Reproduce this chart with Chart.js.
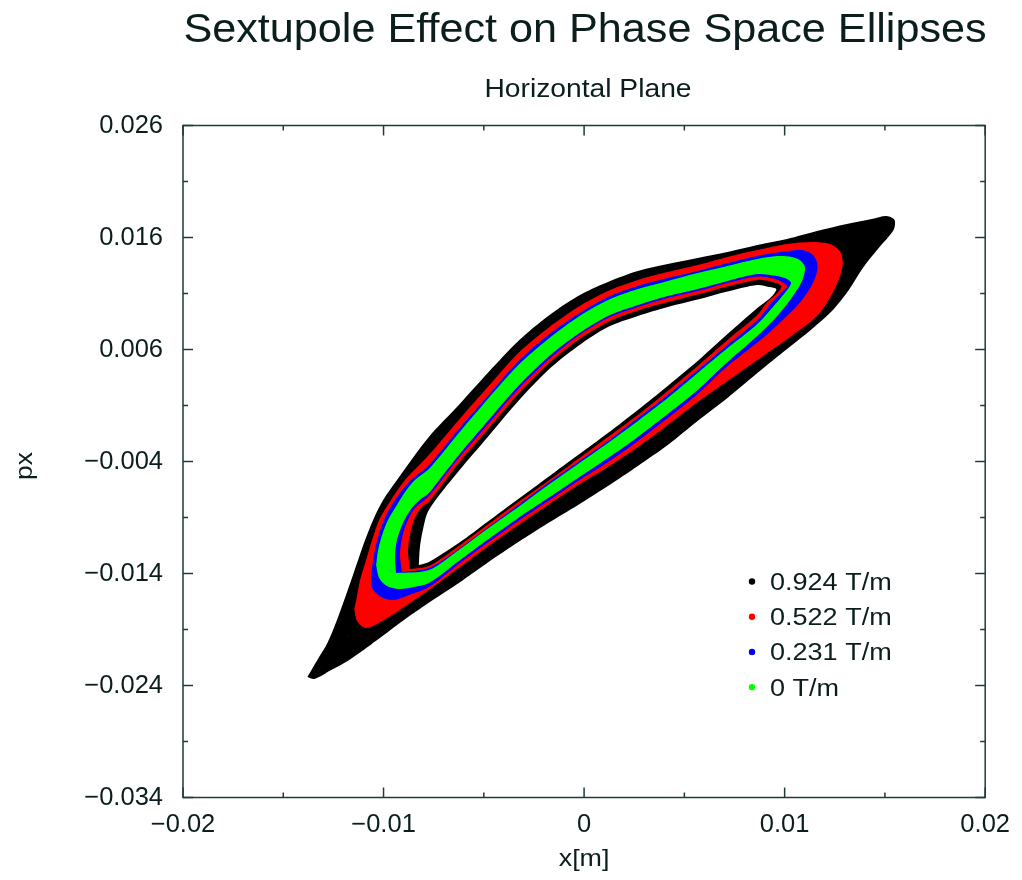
<!DOCTYPE html>
<html>
<head>
<meta charset="utf-8">
<title>Sextupole Effect on Phase Space Ellipses</title>
<script src="https://cdn.jsdelivr.net/npm/chart.js@4.4.1/dist/chart.umd.min.js"></script>
<style>
  html, body { margin: 0; padding: 0; background: #ffffff; }
  #wrap { width: 1022px; height: 880px; position: relative; }
</style>
</head>
<body>
<div id="wrap"><canvas id="chart"></canvas></div>
<script>
// Sextupole strengths and their colours
const ringLabels = ['0.924 T/m', '0.522 T/m', '0.231 T/m', '0 T/m'];
const ringColors = ['#000000', '#ff0000', '#0000ff', '#00ff00'];

// Each tracked particle band is an annulus in (x, px): outer edge and inner edge,
// both listed in the same direction (up the upper-left side, back along the lower side).
const outer0924 = [
  [-0.01380,-0.02324],[-0.01330,-0.02172],[-0.01280,-0.02021],[-0.01236,-0.01833],[-0.01196,-0.01637],
  [-0.01161,-0.01458],[-0.01127,-0.01279],[-0.01092,-0.01101],[-0.01052,-0.00922],[-0.01002,-0.00744],
  [-0.00933,-0.00565],[-0.00774,-0.00181],[-0.00625,0.00104],[-0.00476,0.00399],[-0.00328,0.00676],
  [-0.00179,0.00899],[-0.00030,0.01078],[0.00119,0.01203],[0.00268,0.01301],[0.00417,0.01363],
  [0.00566,0.01417],[0.00715,0.01471],[0.00864,0.01533],[0.01012,0.01587],[0.01161,0.01658],
  [0.01310,0.01721],[0.01434,0.01765],[0.01509,0.01792],[0.01548,0.01756],[0.01543,0.01667],
  [0.01469,0.01506],[0.01390,0.01328],[0.01320,0.01131],[0.01241,0.00953],[0.01136,0.00783],
  [0.01012,0.00604],[0.00864,0.00390],[0.00715,0.00167],[0.00566,-0.00038],[0.00417,-0.00253],
  [0.00268,-0.00440],[0.00119,-0.00619],[-0.00030,-0.00788],[-0.00179,-0.00949],[-0.00328,-0.01119],
  [-0.00476,-0.01297],[-0.00625,-0.01485],[-0.00754,-0.01637],[-0.00898,-0.01815],[-0.01032,-0.01994],
  [-0.01171,-0.02172],[-0.01261,-0.02262],[-0.01345,-0.02342]
];
const inner0924 = [
  [-0.00824,-0.01324],[-0.00819,-0.01172],[-0.00804,-0.01012],[-0.00774,-0.00833],[-0.00625,-0.00485],
  [-0.00476,-0.00172],[-0.00328,0.00140],[-0.00179,0.00417],[-0.00030,0.00631],[0.00119,0.00801],
  [0.00268,0.00899],[0.00417,0.00979],[0.00566,0.01046],[0.00715,0.01118],[0.00864,0.01176],
  [0.00923,0.01158],[0.00958,0.01140],[0.00943,0.01087],[0.00903,0.01024],[0.00864,0.00971],
  [0.00715,0.00738],[0.00566,0.00497],[0.00417,0.00274],[0.00268,0.00060],[0.00119,-0.00146],
  [-0.00030,-0.00342],[-0.00179,-0.00538],[-0.00328,-0.00735],[-0.00476,-0.00931],[-0.00625,-0.01128],
  [-0.00774,-0.01297]
];
const outer0522 = [
  [-0.01146,-0.01717],[-0.01136,-0.01637],[-0.01117,-0.01458],[-0.01087,-0.01279],[-0.01057,-0.01101],
  [-0.01022,-0.00922],[-0.00963,-0.00744],[-0.00893,-0.00565],[-0.00774,-0.00342],[-0.00625,-0.00029],
  [-0.00476,0.00274],[-0.00328,0.00569],[-0.00179,0.00792],[-0.00030,0.00979],[0.00119,0.01122],
  [0.00268,0.01221],[0.00417,0.01292],[0.00566,0.01354],[0.00715,0.01426],[0.00864,0.01488],
  [0.01012,0.01542],[0.01136,0.01560],[0.01226,0.01542],[0.01275,0.01479],[0.01290,0.01381],
  [0.01275,0.01247],[0.01231,0.01078],[0.01161,0.00899],[0.01027,0.00712],[0.00864,0.00506],
  [0.00715,0.00319],[0.00566,0.00131],[0.00417,-0.00074],[0.00268,-0.00271],[0.00119,-0.00449],
  [-0.00030,-0.00610],[-0.00179,-0.00788],[-0.00328,-0.00967],[-0.00476,-0.01154],[-0.00625,-0.01351],
  [-0.00774,-0.01547],[-0.00898,-0.01699],[-0.00998,-0.01815],[-0.01087,-0.01887],[-0.01132,-0.01824]
];
const inner0522 = [
  [-0.00868,-0.01360],[-0.00878,-0.01208],[-0.00868,-0.01056],[-0.00844,-0.00904],[-0.00809,-0.00806],
  [-0.00774,-0.00762],[-0.00625,-0.00413],[-0.00476,-0.00105],[-0.00328,0.00203],[-0.00179,0.00471],
  [-0.00030,0.00685],[0.00119,0.00846],[0.00268,0.00948],[0.00417,0.01024],[0.00566,0.01091],
  [0.00715,0.01163],[0.00864,0.01221],[0.00938,0.01203],[0.00983,0.01167],[0.00963,0.01104],
  [0.00913,0.01024],[0.00864,0.00908],[0.00715,0.00685],[0.00566,0.00453],[0.00417,0.00229],
  [0.00268,0.00015],[0.00119,-0.00181],[-0.00030,-0.00378],[-0.00179,-0.00574],[-0.00328,-0.00762],
  [-0.00476,-0.00958],[-0.00625,-0.01154],[-0.00774,-0.01333]
];
const outer0231 = [
  [-0.01062,-0.01413],[-0.01052,-0.01279],[-0.01032,-0.01101],[-0.00998,-0.00922],[-0.00943,-0.00744],
  [-0.00873,-0.00583],[-0.00774,-0.00431],[-0.00625,-0.00110],[-0.00476,0.00194],[-0.00328,0.00497],
  [-0.00179,0.00729],[-0.00030,0.00917],[0.00119,0.01069],[0.00268,0.01167],[0.00417,0.01238],
  [0.00566,0.01301],[0.00715,0.01372],[0.00864,0.01435],[0.01012,0.01479],[0.01087,0.01488],
  [0.01136,0.01453],[0.01161,0.01381],[0.01161,0.01292],[0.01136,0.01176],[0.01087,0.01042],
  [0.01027,0.00926],[0.00898,0.00712],[0.00715,0.00453],[0.00566,0.00203],[0.00417,-0.00012],
  [0.00268,-0.00217],[0.00119,-0.00405],[-0.00030,-0.00574],[-0.00179,-0.00753],[-0.00328,-0.00931],
  [-0.00476,-0.01119],[-0.00625,-0.01315],[-0.00774,-0.01521],[-0.00873,-0.01592],[-0.00948,-0.01637],
  [-0.01012,-0.01610],[-0.01057,-0.01529]
];
const inner0231 = [
  [-0.00908,-0.01387],[-0.00918,-0.01235],[-0.00908,-0.01083],[-0.00883,-0.00940],[-0.00844,-0.00815],
  [-0.00774,-0.00708],[-0.00625,-0.00369],[-0.00476,-0.00061],[-0.00328,0.00247],[-0.00179,0.00506],
  [-0.00030,0.00721],[0.00119,0.00881],[0.00268,0.00979],[0.00417,0.01060],[0.00566,0.01122],
  [0.00715,0.01194],[0.00864,0.01252],[0.00953,0.01229],[0.01012,0.01167],[0.00988,0.01113],
  [0.00938,0.01024],[0.00864,0.00863],[0.00715,0.00640],[0.00566,0.00417],[0.00417,0.00194],
  [0.00268,-0.00012],[0.00119,-0.00217],[-0.00030,-0.00405],[-0.00179,-0.00592],[-0.00328,-0.00788],
  [-0.00476,-0.00985],[-0.00625,-0.01181],[-0.00774,-0.01351]
];
const outer0 = [
  [-0.01037,-0.01324],[-0.01027,-0.01190],[-0.01007,-0.01056],[-0.00978,-0.00922],[-0.00933,-0.00788],
  [-0.00893,-0.00672],[-0.00844,-0.00565],[-0.00774,-0.00467],[-0.00625,-0.00146],[-0.00476,0.00167],
  [-0.00328,0.00462],[-0.00179,0.00694],[-0.00030,0.00890],[0.00119,0.01042],[0.00268,0.01140],
  [0.00417,0.01212],[0.00566,0.01283],[0.00715,0.01346],[0.00864,0.01408],[0.00963,0.01435],
  [0.01037,0.01426],[0.01082,0.01390],[0.01102,0.01328],[0.01092,0.01238],[0.01077,0.01176],
  [0.01027,0.01042],[0.00963,0.00899],[0.00864,0.00721],[0.00715,0.00488],[0.00566,0.00238],
  [0.00417,0.00024],[0.00268,-0.00181],[0.00119,-0.00369],[-0.00030,-0.00547],[-0.00179,-0.00726],
  [-0.00328,-0.00904],[-0.00476,-0.01092],[-0.00625,-0.01288],[-0.00774,-0.01485],[-0.00849,-0.01521],
  [-0.00923,-0.01538],[-0.00983,-0.01512],[-0.01022,-0.01440]
];
const inner0 = [
  [-0.00938,-0.01396],[-0.00943,-0.01244],[-0.00933,-0.01101],[-0.00903,-0.00949],[-0.00859,-0.00815],
  [-0.00814,-0.00735],[-0.00774,-0.00681],[-0.00625,-0.00342],[-0.00476,-0.00029],[-0.00328,0.00274],
  [-0.00179,0.00533],[-0.00030,0.00738],[0.00119,0.00899],[0.00268,0.00997],[0.00417,0.01078],
  [0.00566,0.01140],[0.00715,0.01212],[0.00864,0.01274],[0.00963,0.01256],[0.01012,0.01229],
  [0.01032,0.01194],[0.01012,0.01131],[0.00963,0.01024],[0.00864,0.00828],[0.00715,0.00613],
  [0.00566,0.00390],[0.00417,0.00167],[0.00268,-0.00038],[0.00119,-0.00235],[-0.00030,-0.00422],
  [-0.00179,-0.00610],[-0.00328,-0.00806],[-0.00476,-0.00994],[-0.00625,-0.01190],[-0.00774,-0.01369]
];

// Axis ticks
const xTicks = [-0.02, -0.01, 0, 0.01, 0.02];
const xTickLabels = ['\u22120.02', '\u22120.01', '0', '0.01', '0.02'];
const xMinorTicks = [-0.015, -0.005, 0.005, 0.015];
const yTicks = [-0.034, -0.024, -0.014, -0.004, 0.006, 0.016, 0.026];
const yTickLabels = ['\u22120.034', '\u22120.024', '\u22120.014', '\u22120.004', '0.006', '0.016', '0.026'];
const yMinorTicks = [-0.029, -0.019, -0.009, 0.001, 0.011, 0.021];

const FONT = 'Liberation Sans';
const INK = '#0c1d1d';
const FRAME = '#1f3a3a';

// Outer edge, closed, then the inner edge run the other way round: one keyhole outline.
// Doubled points at the joins keep the connecting cut straight when the edges are smoothed,
// and the opposite winding leaves the middle unfilled.
function bandOutline(outer, inner) {
  const back = [inner[0]].concat(inner.slice(1).reverse());
  const pts = outer.concat([outer[0], outer[0]], [back[0]], back, [back[0], back[0]]);
  return pts.map(([x, y]) => ({ x, y }));
}

const bands = [[outer0924, inner0924], [outer0522, inner0522], [outer0231, inner0231], [outer0, inner0]];

const datasets = bands.map(([o, i], k) => ({
  label: ringLabels[k],
  data: bandOutline(o, i),
  backgroundColor: ringColors[k],
  borderColor: 'rgba(0,0,0,0)',
  borderWidth: 0,
  pointRadius: 0,
  pointHoverRadius: 0,
  tension: 0.3,
  fill: 'shape',
  order: 4 - k
}));

// text drawn with a horizontal stretch factor
function stretchedText(ctx, text, x, y, size, sx, align, rot) {
  ctx.save();
  ctx.translate(x, y);
  if (rot) ctx.rotate(rot);
  ctx.scale(sx, 1);
  ctx.font = `${size}px "${FONT}"`;
  ctx.textAlign = align;
  ctx.textBaseline = 'alphabetic';
  ctx.fillText(text, 0, 0);
  ctx.restore();
}

const decor = {
  id: 'decor',
  afterDatasetsDraw(chart) {
    const { ctx, chartArea: a, scales: { x, y } } = chart;
    ctx.save();
    ctx.strokeStyle = FRAME;
    ctx.lineWidth = 1.5;
    ctx.strokeRect(a.left, a.top, a.right - a.left, a.bottom - a.top);
    const seg = (x0, y0, x1, y1) => { ctx.beginPath(); ctx.moveTo(x0, y0); ctx.lineTo(x1, y1); ctx.stroke(); };
    const xMarks = (vals, len) => vals.forEach(v => {
      const p = x.getPixelForValue(v);
      seg(p, a.bottom, p, a.bottom - len);
      seg(p, a.top, p, a.top + len);
    });
    const yMarks = (vals, len) => vals.forEach(v => {
      const p = y.getPixelForValue(v);
      seg(a.left, p, a.left + len, p);
      seg(a.right, p, a.right - len, p);
    });
    xMarks(xTicks, 10); xMarks(xMinorTicks, 5);
    yMarks(yTicks, 10); yMarks(yMinorTicks, 5);
    ctx.restore();
  },
  afterDraw(chart) {
    const { ctx, chartArea: a } = chart;
    const cx = (a.left + a.right) / 2;
    ctx.save();
    ctx.fillStyle = INK;
    stretchedText(ctx, 'Sextupole Effect on Phase Space Ellipses', 585, 42, 40.5, 1.066, 'center');
    stretchedText(ctx, 'Horizontal Plane', 588, 97, 26.5, 1.065, 'center');
    stretchedText(ctx, 'x[m]', cx, 866, 24, 1.12, 'center');
    stretchedText(ctx, 'px', 32, 466, 24, 1.1, 'center', -Math.PI / 2);

    // legend inside the plot, lower right
    chart.data.datasets.forEach((ds, i) => {
      const yb = 590 + i * 35.2;
      ctx.fillStyle = ds.backgroundColor;
      ctx.beginPath();
      ctx.arc(752, yb - 8.5, 3.2, 0, Math.PI * 2);
      ctx.fill();
      ctx.fillStyle = INK;
      stretchedText(ctx, ds.label, 770, yb, 23.5, 1.15, 'left');
    });
    ctx.restore();
  }
};

new Chart(document.getElementById('chart'), {
  type: 'line',
  data: { datasets },
  options: {
    responsive: true,
    maintainAspectRatio: false,
    animation: false,
    events: [],
    layout: { padding: { top: 125.5, right: 33, bottom: 0, left: 0 } },
    plugins: {
      legend: { display: false },
      title: { display: false },
      tooltip: { enabled: false }
    },
    scales: {
      x: {
        type: 'linear',
        min: -0.02,
        max: 0.02,
        afterBuildTicks: s => { s.ticks = xTicks.map(v => ({ value: v })); },
        afterFit: s => { s.height = 82.5; },
        grid: { display: false, drawTicks: false },
        border: { display: false },
        ticks: {
          autoSkip: false, maxRotation: 0, minRotation: 0, padding: 12,
          color: INK, font: { family: FONT, size: 25.5 },
          callback: (v, i) => xTickLabels[i]
        }
      },
      y: {
        type: 'linear',
        min: -0.034,
        max: 0.026,
        afterBuildTicks: s => { s.ticks = yTicks.map(v => ({ value: v })); },
        afterFit: s => { s.width = 183; },
        grid: { display: false, drawTicks: false },
        border: { display: false },
        ticks: {
          autoSkip: false, padding: 20,
          color: INK, font: { family: FONT, size: 25.5 },
          callback: (v, i) => yTickLabels[i]
        }
      }
    }
  },
  plugins: [decor]
});
</script>
</body>
</html>
